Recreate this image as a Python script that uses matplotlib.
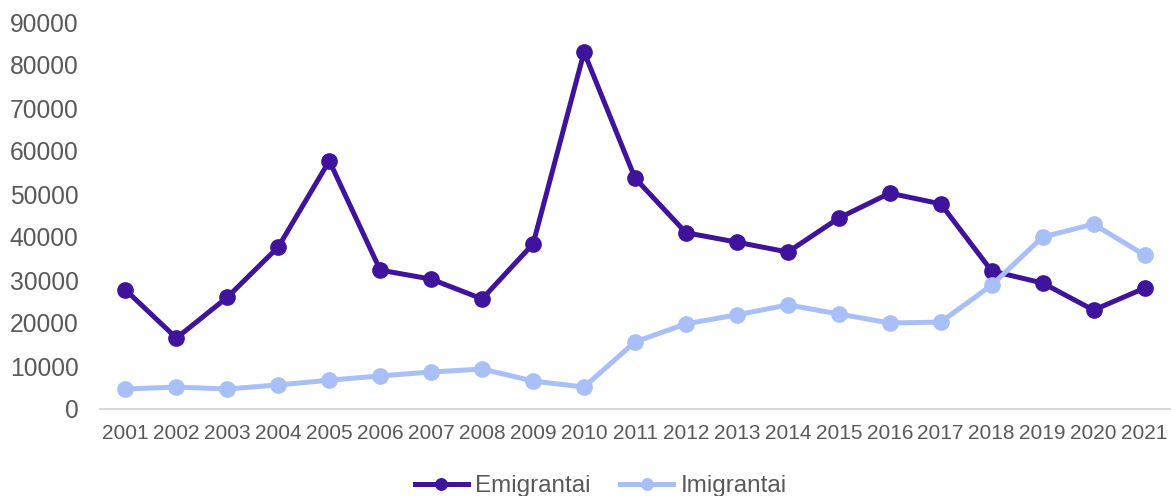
import numpy as np
import matplotlib.pyplot as plt

years = [str(y) for y in range(2001, 2022)]
emigrantai = [27700, 16500, 26000, 37700, 57700, 32300, 30200, 25600, 38400, 83000,
              53700, 41000, 38800, 36500, 44400, 50200, 47700, 32100, 29300, 23000, 28100]
imigrantai = [4650, 5100, 4650, 5600, 6700, 7700, 8600, 9300, 6500, 5100,
              15600, 19800, 21900, 24200, 22100, 20000, 20200, 28800, 40000, 43000, 35800]
yticks = np.arange(0, 90001, 10000)

plt.rcParams['font.family'] = ['Liberation Sans', 'DejaVu Sans']
grey = '#595959'

fig = plt.figure(figsize=[11.71, 4.96], dpi=100, facecolor='white')
ax = fig.add_axes([100/1171, 87/496, 1070/1171, 387/496])
x = np.arange(len(years))
ax.plot(x, emigrantai, '-o', color='#3F139C', linewidth=3.6, markersize=11, label='Emigrantai', zorder=3)
ax.plot(x, imigrantai, '-o', color='#A9BFF7', linewidth=3.6, markersize=11, label='Imigrantai', zorder=4)

ax.set_xlim(-0.5, len(years) - 0.5)
ax.set_ylim(0, 90000)
ax.set_xticks(x)
ax.set_xticklabels(years, fontsize=15, color=grey)
ax.set_yticks(yticks)
ax.set_yticklabels([str(v) for v in yticks], fontsize=17.7, color=grey)
ax.tick_params(axis='both', length=0)
ax.tick_params(axis='y', pad=15.5)
ax.tick_params(axis='x', pad=11)
for s in ['top', 'right', 'left']:
    ax.spines[s].set_visible(False)
ax.spines['bottom'].set_color('#d9d9d9')
ax.spines['bottom'].set_linewidth(1.5)

leg = fig.legend(loc='center', bbox_to_anchor=(0.513, 0.02), ncol=2, frameon=False,
                 fontsize=17.5, handlelength=2.2, handletextpad=0.3, columnspacing=1.2,
                 markerscale=0.75)
for t in leg.get_texts():
    t.set_color(grey)

plt.savefig('out.png', dpi=100)
